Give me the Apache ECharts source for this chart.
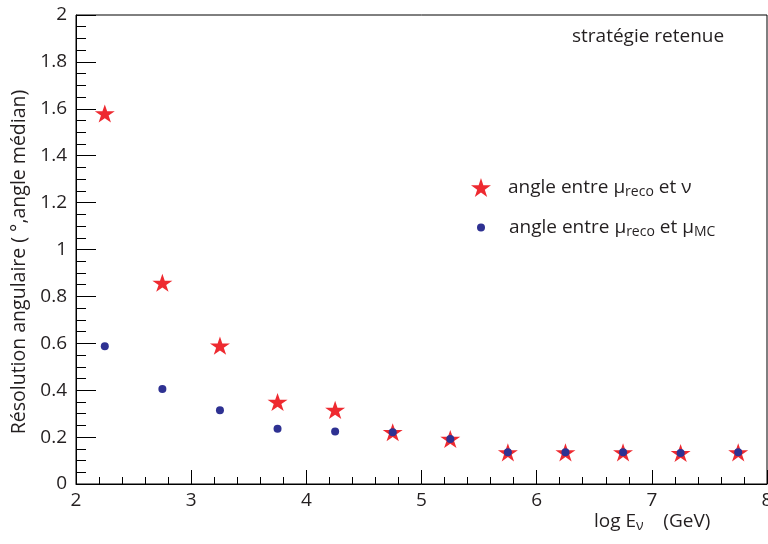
<!DOCTYPE html>
<html><head><meta charset="utf-8">
<script src="https://cdn.jsdelivr.net/npm/echarts@6/dist/echarts.min.js"></script>
<style>html,body{margin:0;padding:0;background:#fff}#c{width:768px;height:544px}</style>
</head><body><div id="c"></div>
<script>
const logE = [2.25, 2.75, 3.25, 3.75, 4.25, 4.75, 5.25, 5.75, 6.25, 6.75, 7.25, 7.75];
const angleRecoNu = [1.58, 0.858, 0.59, 0.35, 0.316, 0.221, 0.192, 0.135, 0.135, 0.135, 0.132, 0.135];
const angleRecoMC = [0.587, 0.405, 0.315, 0.236, 0.224, 0.221, 0.192, 0.135, 0.135, 0.135, 0.132, 0.135];
const seriesNames = ['angle entre μ{sub|reco} et ν', 'angle entre μ{sub|reco} et μ{sub|MC}'];
const xTitle = 'log E{sub|ν}    (GeV)';
const yTitle = 'Résolution angulaire ( °,angle médian)';
const note = 'stratégie retenue';

const FONT = '"Open Sans", "Noto Sans", sans-serif';
const TXT = '#231f20';
const starPath = 'path://M100 0 L122.45 69.1 L195.1 69.1 L136.3 111.8 L158.8 180.9 L100 138.2 L41.2 180.9 L63.7 111.8 L4.9 69.1 L77.55 69.1 Z';
const subRich = {
  sub: {fontFamily: FONT, fontSize: 14, color: TXT, padding: [10, 0, 0, 0]}
};

const chart = echarts.init(document.getElementById('c'));
chart.setOption({
  animation: false,
  grid: {left: 76, right: 1, top: 15, bottom: 60, show: true, borderColor: '#000', borderWidth: 1,
         outerBoundsMode: 'none', containLabel: false},
  xAxis: {
    type: 'value', min: 2, max: 8, interval: 1,
    axisLine: {lineStyle: {color: '#000', width: 1}},
    axisTick: {inside: true, length: 14, lineStyle: {color: '#000'}},
    minorTick: {show: true, splitNumber: 5, length: 7, lineStyle: {color: '#000'}},
    splitLine: {show: false},
    axisLabel: {fontFamily: FONT, fontSize: 19, color: TXT, margin: 7, hideOverlap: false}
  },
  yAxis: {
    type: 'value', min: 0, max: 2, interval: 0.2,
    axisLine: {lineStyle: {color: '#000', width: 1}},
    axisTick: {inside: true, length: 20, lineStyle: {color: '#000'}},
    minorTick: {show: true, splitNumber: 4, length: 10, lineStyle: {color: '#000'}},
    splitLine: {show: false},
    axisLabel: {fontFamily: FONT, fontSize: 19, color: TXT, margin: 9}
  },
  legend: [
    {data: [seriesNames[0]], left: 466, top: 173, padding: 5, itemWidth: 20, itemHeight: 19,
     formatter: n => n, textStyle: {fontFamily: FONT, fontSize: 19, color: TXT, padding: [0, 0, 0, 12], rich: subRich}},
    {data: [seriesNames[1]], left: 472, top: 213, padding: 5, itemWidth: 8, itemHeight: 8,
     formatter: n => n, textStyle: {fontFamily: FONT, fontSize: 19, color: TXT, padding: [0, 0, 0, 19], rich: subRich}}
  ],
  series: [
    {name: seriesNames[0], type: 'scatter', symbol: starPath, symbolSize: [20, 19], symbolKeepAspect: true,
     itemStyle: {color: '#ee2a30', opacity: 1}, data: logE.map((x, i) => [x, angleRecoNu[i]]), z: 2},
    {name: seriesNames[1], type: 'scatter', symbol: 'circle', symbolSize: 8,
     itemStyle: {color: '#2e3192', opacity: 1}, data: logE.map((x, i) => [x, angleRecoMC[i]]), z: 3}
  ],
  graphic: [
    {type: 'text', left: 572, top: 27, style: {text: note, fontFamily: FONT, fontSize: 19, fill: TXT}},
    {type: 'text', left: 594, top: 512, style: {text: xTitle, fontFamily: FONT, fontSize: 19, fill: TXT,
      rich: {sub: {fontFamily: FONT, fontSize: 14, fill: TXT, padding: [9, 0, 0, 0]}}}},
    {type: 'text', x: 19, y: 262, rotation: Math.PI / 2,
     style: {text: yTitle, fontFamily: FONT, fontSize: 19.5, fill: TXT, align: 'center', verticalAlign: 'middle'}}
  ]
});
</script></body></html>
